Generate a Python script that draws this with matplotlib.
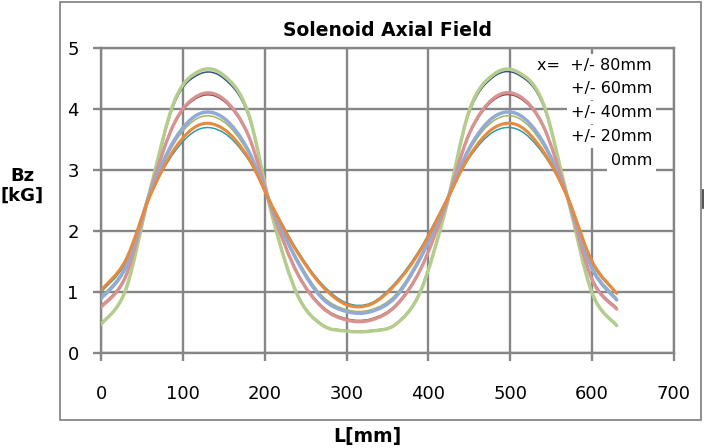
import numpy as np
import matplotlib
matplotlib.use("Agg")
import matplotlib.pyplot as plt
from matplotlib.path import Path
from matplotlib.patches import PathPatch, Rectangle
from matplotlib.lines import Line2D

# Axial position along the solenoid [mm]
pos_mm = [0, 30, 60, 90, 120, 150, 180, 210, 240, 270, 300,
          330, 360, 390, 420, 450, 480, 510, 540, 570, 600, 630]

# Bz [kG], one list per trace
bz_80a = [0.47, 1.03, 2.67, 4.14, 4.62, 4.55, 3.93, 2.20, 0.95, 0.46, 0.36,
          0.36, 0.47, 1.00, 2.30, 3.98, 4.57, 4.60, 4.10, 2.55, 0.98, 0.45]
bz_80b = [0.48, 1.02, 2.64, 4.10, 4.57, 4.50, 3.89, 2.22, 0.97, 0.47, 0.37,
          0.37, 0.48, 1.02, 2.32, 3.94, 4.53, 4.56, 4.06, 2.54, 0.99, 0.46]
bz_60a = [0.75, 1.25, 2.65, 3.78, 4.23, 4.16, 3.57, 2.30, 1.30, 0.75, 0.54,
          0.54, 0.77, 1.36, 2.38, 3.60, 4.18, 4.22, 3.73, 2.55, 1.20, 0.72]
bz_60b = [0.77, 1.27, 2.64, 3.76, 4.20, 4.13, 3.55, 2.31, 1.32, 0.77, 0.56,
          0.56, 0.79, 1.38, 2.39, 3.58, 4.15, 4.19, 3.71, 2.55, 1.22, 0.74]
bz_40a = [0.89, 1.40, 2.62, 3.50, 3.92, 3.85, 3.32, 2.35, 1.50, 0.90, 0.68,
          0.68, 0.92, 1.55, 2.42, 3.36, 3.87, 3.91, 3.46, 2.55, 1.38, 0.87]
bz_40b = [0.92, 1.43, 2.60, 3.45, 3.86, 3.79, 3.28, 2.37, 1.54, 0.94, 0.71,
          0.71, 0.96, 1.59, 2.43, 3.32, 3.81, 3.85, 3.41, 2.55, 1.41, 0.90]
bz_20a = [1.03, 1.52, 2.58, 3.35, 3.74, 3.67, 3.20, 2.38, 1.65, 1.10, 0.79,
          0.80, 1.13, 1.68, 2.44, 3.23, 3.69, 3.73, 3.31, 2.55, 1.50, 0.98]
bz_00 = [1.00, 1.48, 2.57, 3.30, 3.67, 3.61, 3.17, 2.40, 1.68, 1.13, 0.82,
         0.82, 1.16, 1.71, 2.46, 3.20, 3.63, 3.66, 3.27, 2.55, 1.47, 0.97]

legend_labels = ["x=  +/- 80mm", "+/- 60mm", "+/- 40mm", "+/- 20mm", "0mm"]
x_ticks = [0, 100, 200, 300, 400, 500, 600, 700]
y_ticks = [0, 1, 2, 3, 4, 5]

GRID = "#868686"


def smooth_path(xs, ys):
    # Excel-style smoothed line (Catmull-Rom through the data points)
    px = np.r_[xs[0], xs, xs[-1]].astype(float)
    py = np.r_[ys[0], ys, ys[-1]].astype(float)
    verts = [(px[1], py[1])]
    codes = [Path.MOVETO]
    for i in range(1, len(px) - 2):
        c1 = (px[i] + (px[i + 1] - px[i - 1]) / 6, py[i] + (py[i + 1] - py[i - 1]) / 6)
        c2 = (px[i + 1] - (px[i + 2] - px[i]) / 6, py[i + 1] - (py[i + 2] - py[i]) / 6)
        verts += [c1, c2, (px[i + 1], py[i + 1])]
        codes += [Path.CURVE4] * 3
    return Path(verts, codes)


fig = plt.figure(figsize=(7.05, 4.48), dpi=100)
ax = fig.add_axes([101 / 705, 1 - 353 / 448, 573 / 705, 305 / 448])

# thin dark traces underneath, thick light traces on top
traces = [
    (bz_80b, "#34557F", 1.1),
    (bz_60b, "#8E3B39", 1.1),
    (bz_40b, "#A5B55E", 1.1),
    (bz_00, "#3399A8", 1.1),
    (bz_80a, "#B4CD8C", 2.5),
    (bz_60a, "#D69390", 2.4),
    (bz_40a, "#91AAD6", 2.5),
    (bz_20a, "#E88A3C", 2.2),
]
for vals, col, lw in traces:
    ax.add_patch(PathPatch(smooth_path(np.array(pos_mm), np.array(vals)),
                           facecolor="none", edgecolor=col, lw=lw,
                           capstyle="round", zorder=3))

ax.set_xlim(0, 700)
ax.set_ylim(0, 5)
ax.set_xticks(x_ticks)
ax.set_yticks(y_ticks)
ax.grid(True, color=GRID, lw=1.7, zorder=1)
ax.set_axisbelow(True)
for sp in ax.spines.values():
    sp.set_color(GRID)
    sp.set_linewidth(1.7)
ax.tick_params(axis="both", color=GRID, width=1.7, length=6, labelsize=13)
ax.tick_params(axis="x", pad=17)
ax.tick_params(axis="y", pad=10)

ax.set_title("Solenoid Axial Field", fontsize=13.5, fontweight="bold", pad=9)

# legend entries without keys
for i, lab in enumerate(legend_labels):
    ax.text(673, 4.72 - i * 0.39, lab, ha="right", va="center", fontsize=11.5,
            zorder=5,
            bbox=dict(boxstyle="square,pad=0.25", fc="white", ec="none"))

fig.text(367 / 705, 1 - 436 / 448, "L[mm]", ha="center", va="center",
         fontsize=13.5, fontweight="bold")
fig.text(22 / 705, 1 - 186 / 448, "Bz\n[kG]", ha="center", va="center",
         fontsize=13, fontweight="bold", linespacing=1.15)

fig.patches.append(Rectangle((60 / 705, 1 - 420 / 448), 641 / 705, 418 / 448,
                             transform=fig.transFigure, fill=False,
                             ec=GRID, lw=1.3))
fig.add_artist(Line2D([703 / 705, 703 / 705], [1 - 190 / 448, 1 - 208 / 448],
                      transform=fig.transFigure, color="#333333", lw=1.2))

fig.savefig("out.png", dpi=100)
